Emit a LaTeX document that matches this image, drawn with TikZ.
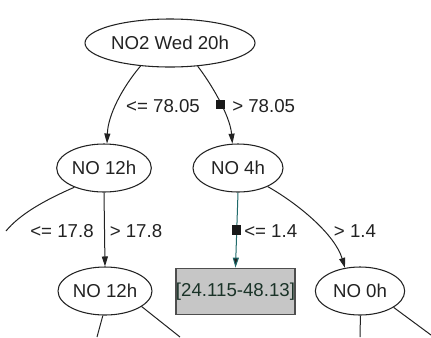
\documentclass[tikz,border=0pt]{standalone}
\usepackage{fontspec}
\setmainfont{Liberation Sans}
\usetikzlibrary{arrows.meta,shapes.geometric}
\definecolor{tealline}{HTML}{1F6A6A}
\definecolor{boxfill}{HTML}{C6C6C6}
\definecolor{boxtext}{HTML}{1A3328}
\definecolor{inkc}{HTML}{222222}
\tikzset{
  treenode/.style={ellipse, draw=inkc, line width=0.8pt, inner sep=0pt, minimum height=36pt, font=\fontsize{14}{16}\selectfont, text=inkc},
  leafbox/.style={rectangle, draw=inkc!80, line width=0.8pt, fill=boxfill, inner sep=0pt, minimum width=88pt, minimum height=35pt, text=boxtext, font=\fontsize{14}{16}\selectfont},
  edge/.style={draw=inkc, line width=0.75pt, -{Triangle[length=7.5pt,width=4.5pt]}},
  hledge/.style={draw=tealline, line width=0.75pt, -{Triangle[length=7.5pt,width=4.5pt,fill=inkc]}},
  stub/.style={draw=inkc, line width=0.75pt},
  elabel/.style={font=\fontsize{14}{16}\selectfont, inner sep=0pt, text=inkc},
  marker/.style={rectangle, fill=black!90, minimum size=7pt, inner sep=0pt}
}
\begin{document}
\begin{tikzpicture}[x=0.75pt,y=-0.75pt]
\useasboundingbox (0,0) rectangle (431,337);
% nodes
\node[treenode, minimum width=127.5pt] (root) at (170,43) {NO2 Wed 20h};
\node[treenode, minimum width=71pt] (n12) at (104,168) {NO 12h};
\node[treenode, minimum width=67.5pt] (n4) at (238,168) {NO 4h};
\node[treenode, minimum width=70.5pt] (n12b) at (105,291) {NO 12h};
\node[leafbox] (leaf) at (235.5,291.5) {[24.115-48.13]};
\node[treenode, minimum width=67pt] (n0) at (360,291) {NO 0h};
% free ends
\coordinate (e1) at (6,231);
\coordinate (e2) at (97,337);
\coordinate (e3) at (180,337);
\coordinate (e4) at (360,337);
\coordinate (e5) at (431,335);
% edges
\draw[edge] (root.218) .. controls (122,88) and (108,115) .. (n12.83);
\draw[edge] (root.-40) .. controls (210,82) and (230,115) .. node[pos=0.55, marker] (m1) {} (n4.103);
\draw[edge] (n12.south) -- (n12b.north);
\draw[hledge] (n4.south) -- node[pos=0.5, marker] (m2) {} (leaf.north);
\draw[edge] (n4.-32) .. controls (300,205) and (335,235) .. (n0.123);
% stubs
\draw[stub] (n12.213) .. controls (45,200) and (20,214) .. (e1);
\draw[stub] (n12b.-95) -- (e2);
\draw[stub] (n12b.-23) -- (e3);
\draw[stub] (n0.-89) -- (e4);
\draw[stub] (n0.-26) -- (e5);
% labels
\node[elabel] (l1) at (163,106) {<= 78.05};
\node[elabel, anchor=west] (l2) at (232,106) {> 78.05};
\node[elabel] (l3) at (62,231) {<= 17.8};
\node[elabel] (l4) at (136,231) {> 17.8};
\node[elabel, anchor=west] (l5) at (244,231) {<= 1.4};
\node[elabel] (l6) at (355,231) {> 1.4};
\end{tikzpicture}
\end{document}
